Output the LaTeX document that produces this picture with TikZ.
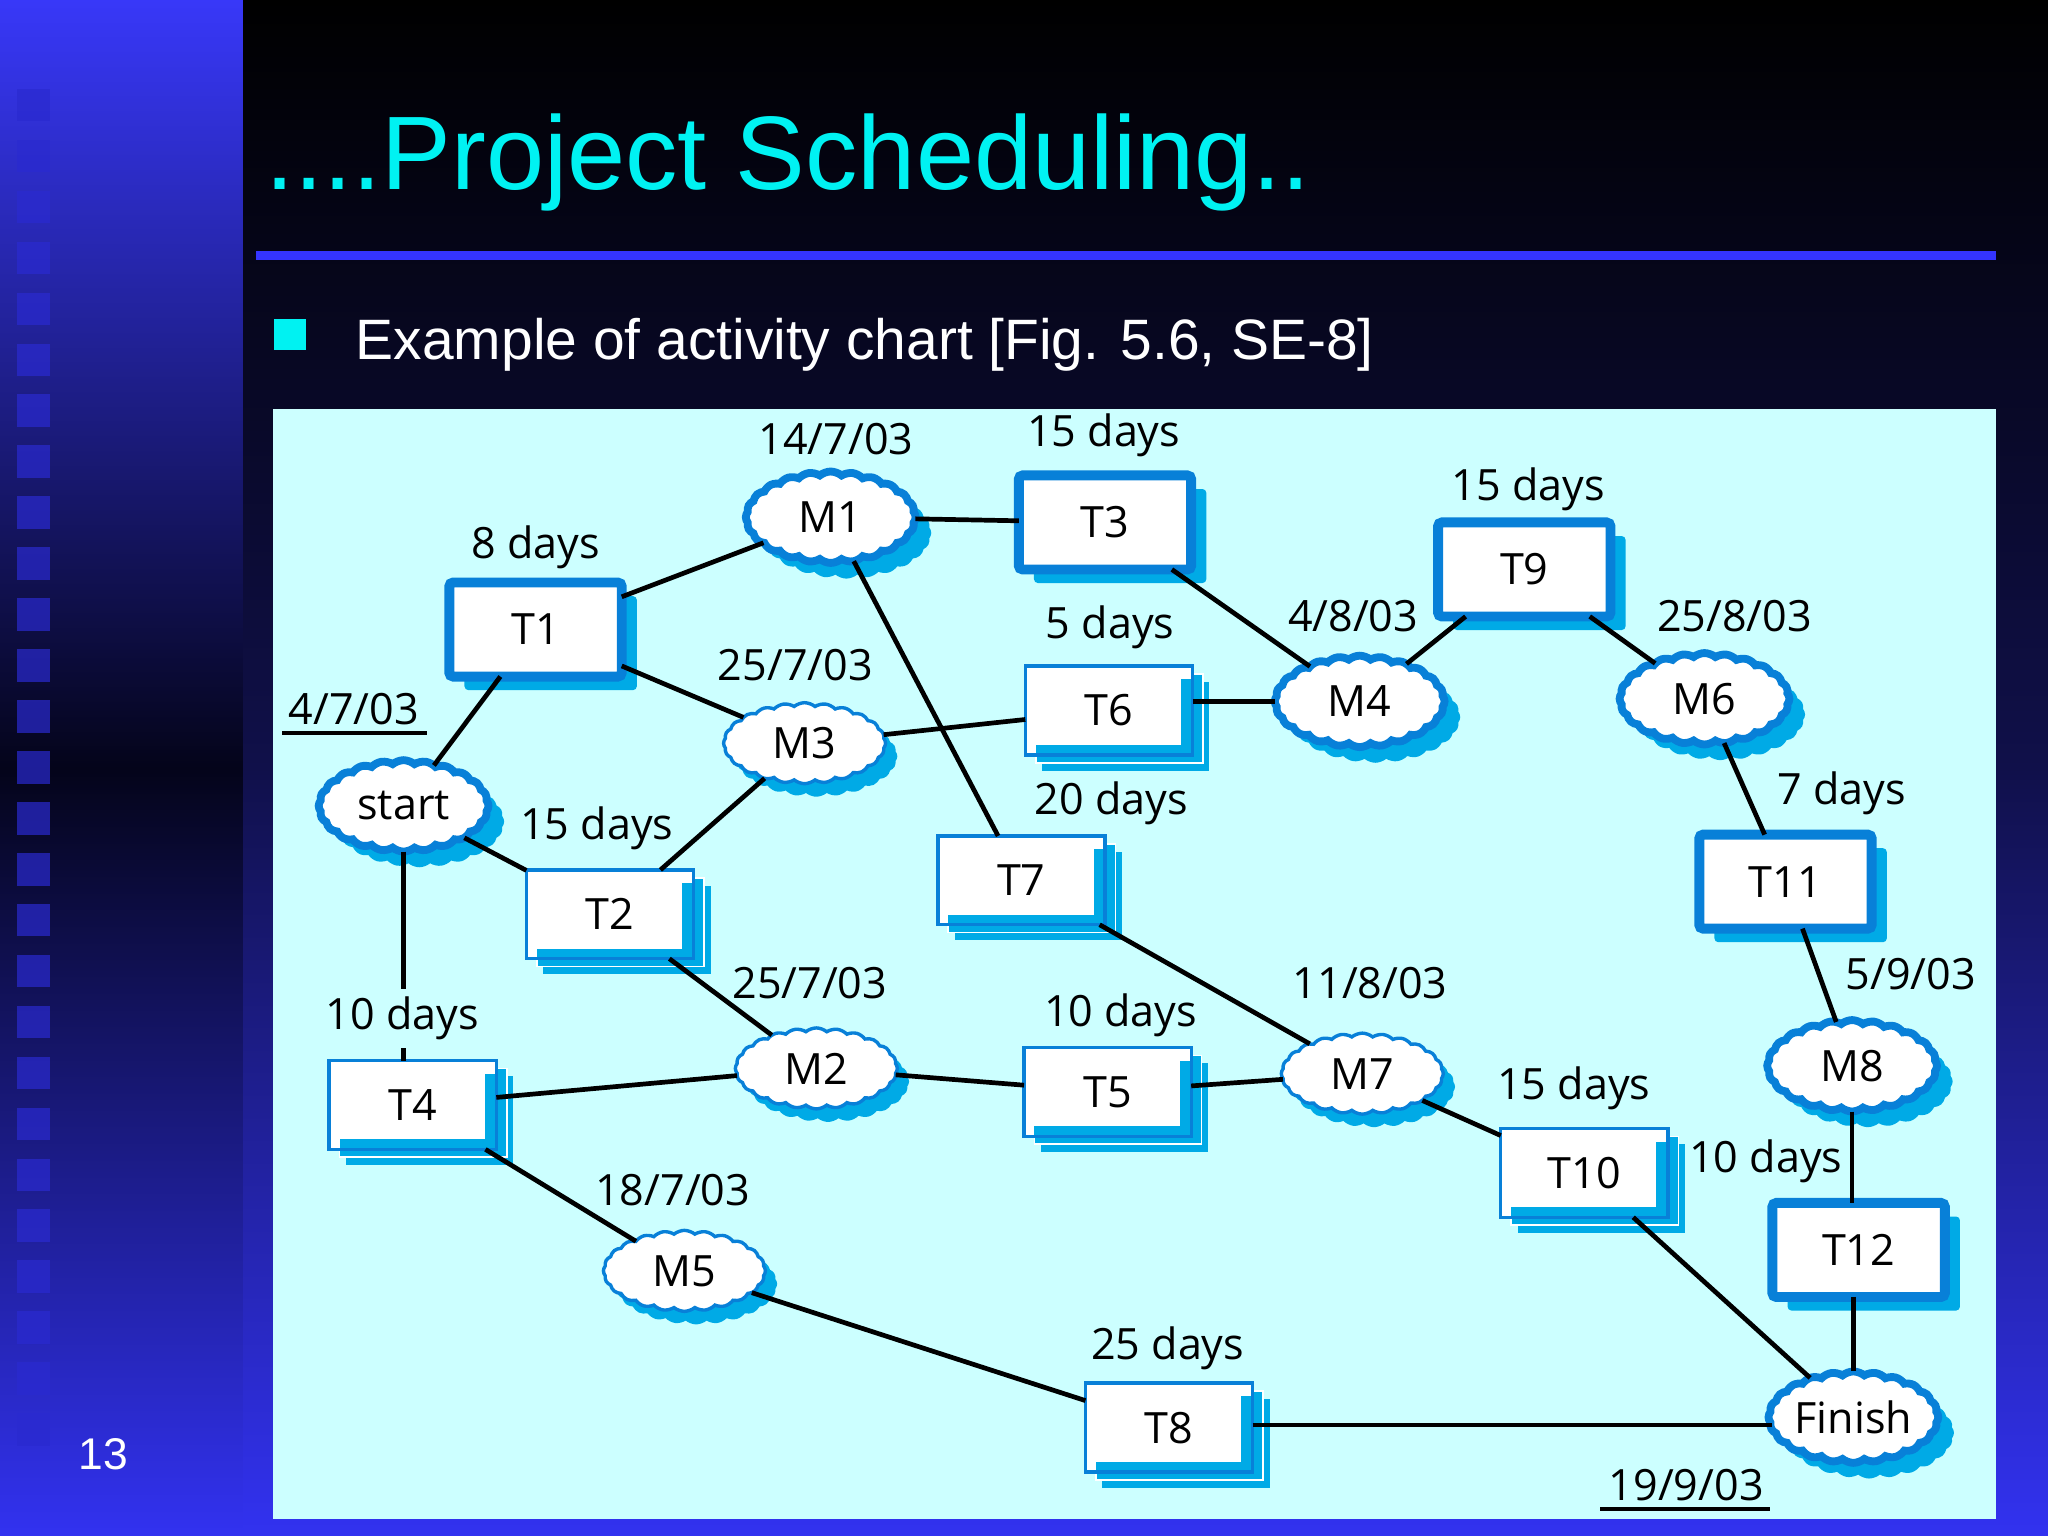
\documentclass[tikz,border=0pt]{standalone}
\usepackage{fontspec}
\setmainfont{Open Sans}
\newfontfamily\slidefont{Liberation Sans}
\usetikzlibrary{shapes.symbols,shadows,calc}
\definecolor{panelc}{HTML}{CCFFFF}
\definecolor{bordc}{HTML}{0880D8}
\definecolor{shadc}{HTML}{00AAE6}
\definecolor{titlec}{HTML}{00F2F2}
\definecolor{rulec}{HTML}{3434FF}
\definecolor{stripa}{HTML}{3838F8}
\definecolor{stripb}{HTML}{04041A}
\definecolor{stripc}{HTML}{3232F0}
\definecolor{mainmid}{HTML}{10104A}
\definecolor{sqc}{HTML}{2A2AD0}
\tikzset{
  lblfont/.style={font=\fontsize{16.5}{19}\selectfont},
  lbl/.style={lblfont, inner sep=1pt, text=black},
  crittask/.style={rectangle, draw=bordc, line width=3.8pt, fill=white, rounded corners=1.5pt,
     minimum width=66pt, minimum height=36pt, outer sep=0pt, inner sep=0pt, lblfont,
     drop shadow={shadow xshift=5.8pt, shadow yshift=-5.2pt, fill=shadc, opacity=1}},
  subtask/.style={rectangle, draw=bordc, line width=1.3pt, fill=white,
     minimum width=64pt, minimum height=34pt, outer sep=0pt, inner sep=0pt, lblfont,
     copy shadow={shadow xshift=6.5pt, shadow yshift=-6pt, fill=shadc, draw=none},
     copy shadow={shadow xshift=4pt, shadow yshift=-3pt, fill=shadc, draw=white, line width=0.6pt}},
  critms/.style={cloud, cloud puffs=24, cloud puff arc=80, cloud ignores aspect,
     draw=bordc, line width=3pt, fill=white, minimum width=65pt, minimum height=35pt,
     outer sep=0pt, inner sep=0pt, lblfont,
     drop shadow={shadow xshift=6pt, shadow yshift=-6pt, fill=shadc, opacity=1}},
  subms/.style={cloud, cloud puffs=24, cloud puff arc=80, cloud ignores aspect,
     draw=bordc, line width=1.3pt, fill=white, minimum width=62pt, minimum height=31pt,
     outer sep=0pt, inner sep=0pt, lblfont,
     drop shadow={shadow xshift=4.5pt, shadow yshift=-5pt, fill=shadc, opacity=1}},
  conn/.style={line width=1.8pt, black},
}
\begin{document}
\begin{tikzpicture}[x=0.5pt,y=-0.5pt]
\useasboundingbox (0,0) rectangle (1568,1176);
% background
\shade[top color=black, bottom color=stripc, middle color=mainmid] (186,0) rectangle (1568,1176);
\shade[top color=stripa, bottom color=stripc, middle color=stripb] (0,0) rectangle (186,1176);
\foreach \i in {0,...,26}{
  \fill[sqc, opacity=0.7] (13,{68+39*\i}) rectangle (38,{93+39*\i});
}
% title area
\node[anchor=base west, inner sep=0pt, text=titlec, font=\slidefont\fontsize{40}{44}\selectfont] (title) at (203,145) {....Project Scheduling..};
\fill[rulec] (196,192) rectangle (1528,199);
\fill[titlec] (210,244) rectangle (234,268);
\node[anchor=base west, inner sep=0pt, text=white, font=\slidefont\fontsize{21.8}{24}\selectfont] (sub) at (272,275) {Example of activity chart [Fig. 5.6, SE-8]};
\node[anchor=base, inner sep=0pt, text=white, font=\slidefont\fontsize{17}{20}\selectfont] (pgno) at (79,1125) {13};
% panel
\fill[panelc] (209,313) rectangle (1528,1163);
% task boxes
\node[crittask] (T1) at (410,482) {T1};
\node[crittask] (T3) at (846,400) {T3};
\node[crittask] (T9) at (1167,436) {T9};
\node[crittask] (T11) at (1367,675) {T11};
\node[crittask] (T12) at (1423,957) {T12};
\node[subtask] (T2) at (467,700) {T2};
\node[subtask] (T6) at (849,544) {T6};
\node[subtask] (T7) at (782,674) {T7};
\node[subtask] (T4) at (316,846) {T4};
\node[subtask] (T5) at (848,836) {T5};
\node[subtask] (T10) at (1213,898) {T10};
\node[subtask] (T8) at (895,1093) {T8};
\foreach \n in {T2,T6,T7,T4,T5,T10,T8}{
  \fill[shadc] ($(\n.north east)+(-4.4pt,-5pt)$) rectangle ($(\n.south east)+(-0.65pt,0.65pt)$);
  \fill[shadc] ($(\n.south west)+(4pt,3.9pt)$) rectangle ($(\n.south east)+(-0.65pt,0.65pt)$);
}
% milestones
\node[critms] (start) at (309,617) {start};
\node[critms] (M1) at (636,396) {M1};
\node[critms] (M4) at (1041,537) {M4};
\node[critms] (M6) at (1305,535) {M6};
\node[critms] (M8) at (1418,816) {M8};
\node[critms] (Fin) at (1419,1085) {Finish};
\node[subms] (M3) at (616,569) {M3};
\node[subms] (M2) at (625,818) {M2};
\node[subms] (M7) at (1043,822) {M7};
\node[subms] (M5) at (524,973) {M5};
% connectors
\draw[conn] (start) -- (T1);
\draw[conn] (T1) -- (M1);
\draw[conn] (T1) -- (M3);
\draw[conn] (start) -- (T2);
\draw[conn] (T2) -- (M3);
\draw[conn] (start) -- (start |- T4.north);
\draw[conn] (M1) -- (T3);
\draw[conn] (M1) -- (T7);
\draw[conn] (M3) -- (T6);
\draw[conn] (T3) -- (M4);
\draw[conn] (T6.east |- M4) -- (M4);
\draw[conn] (M4) -- (T9);
\draw[conn] (T9) -- (M6);
\draw[conn] (M6) -- (T11);
\draw[conn] (T11) -- (M8);
\draw[conn] (M8) -- (M8 |- T12.north);
\draw[conn] (Fin |- T12.south) -- (Fin);
\draw[conn] (T2) -- (M2);
\draw[conn] (T4) -- (M2);
\draw[conn] (M2) -- (T5);
\draw[conn] (T5) -- (M7);
\draw[conn] (T7) -- (M7);
\draw[conn] (M7) -- (T10);
\draw[conn] (T10) -- (Fin);
\draw[conn] (T4) -- (M5);
\draw[conn] (M5) -- (T8);
\draw[conn] ($(T8.east)+(0,1pt)$) -- ($(T8.east -| Fin.west)+(1.5pt,1pt)$);
% labels
\node[lbl] (l1) at (410,419) {8 days};
\node[lbl] (l2) at (845,333) {15 days};
\node[lbl] (l3) at (640,336) {14/7/03};
\node[lbl] (l4) at (1170,375) {15 days};
\node[lbl] (l5) at (850,480) {5 days};
\node[lbl] (l6) at (1036,472) {4/8/03};
\node[lbl] (l7) at (1328,472) {25/8/03};
\node[lbl] (l8) at (609,509) {25/7/03};
\node[lbl] (l9) at (271,543) {4/7/03};
\node[lbl] (l10) at (457,634) {15 days};
\node[lbl] (l11) at (851,615) {20 days};
\node[lbl] (l12) at (1410,607) {7 days};
\node[lbl] (l13) at (620,753) {25/7/03};
\node[lbl, fill=panelc, inner sep=3pt] (l14) at (308,780) {10 days};
\node[lbl] (l15) at (858,777) {10 days};
\node[lbl] (l16) at (1049,753) {11/8/03};
\node[lbl] (l17) at (1463,746) {5/9/03};
\node[lbl] (l18) at (1205,833) {15 days};
\node[lbl] (l19) at (1352,889) {10 days};
\node[lbl] (l20) at (515,911) {18/7/03};
\node[lbl] (l21) at (894,1032) {25 days};
\node[lbl] (l22) at (1291,1137) {19/9/03};
\draw[line width=1.5pt] (216,561) -- (327,561);
\draw[line width=1.5pt] (1225,1155) -- (1355,1155);
\end{tikzpicture}
\end{document}
